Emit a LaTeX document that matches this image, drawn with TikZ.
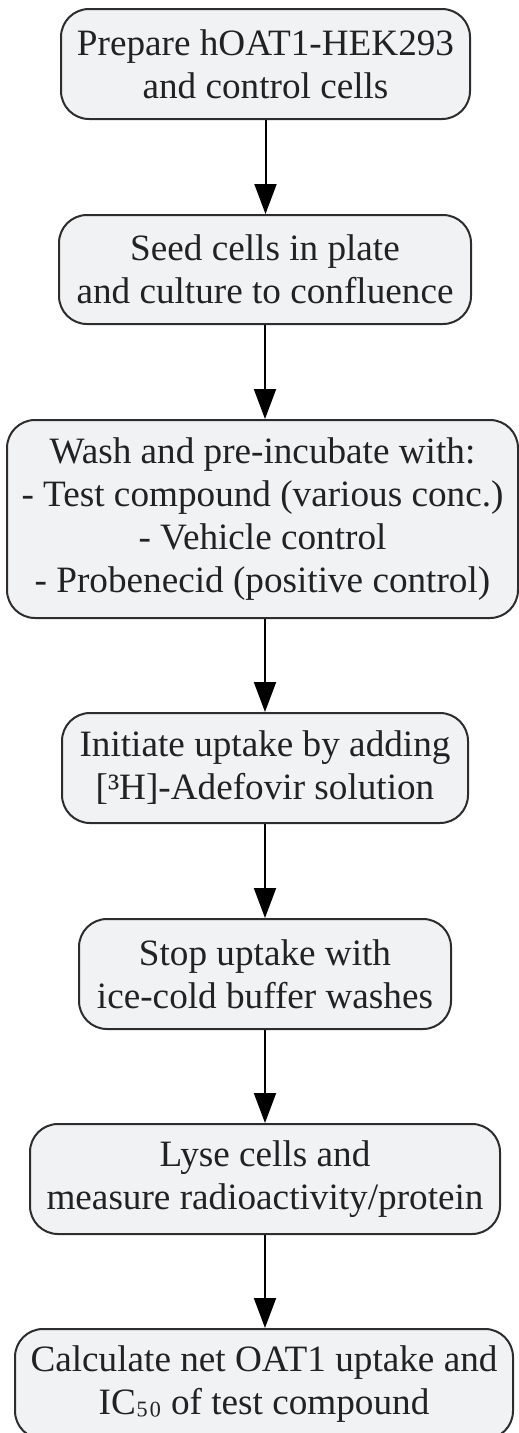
\documentclass[tikz,border=0pt]{standalone}
\usepackage{fontspec}
\setmainfont{Liberation Serif}
\usetikzlibrary{arrows.meta}
\definecolor{boxfill}{RGB}{241,242,244}
\definecolor{boxdraw}{RGB}{45,45,45}
\definecolor{txt}{RGB}{34,34,34}
\tikzset{
  stepbox/.style={draw=boxdraw, fill=boxfill, line width=2pt, rounded corners=28pt,
    inner sep=0pt, align=center, text=txt,
    font=\fontsize{37.2pt}{43pt}\selectfont},
  flow/.style={draw=black, line width=2pt, -{Triangle[length=30pt,width=22pt]}}
}
\begin{document}
\begin{tikzpicture}[x=1pt,y=1pt]
\useasboundingbox (0,0) rectangle (519,-1433);
\node[stepbox, minimum width=409pt, minimum height=110pt] (b1) at (265.5,-64) {Prepare hOAT1-HEK293\\and control cells};
\node[stepbox, minimum width=412pt, minimum height=109pt] (b2) at (265,-269.5) {Seed cells in plate\\and culture to confluence};
\node[stepbox, minimum width=511pt, minimum height=198pt] (b3) at (262.5,-519) {Wash and pre-incubate with:\\- Test compound (various conc.)\\- Vehicle control\\- Probenecid (positive control)};
\node[stepbox, minimum width=406pt, minimum height=110pt] (b4) at (265,-768) {Initiate uptake by adding\\{[³H]}-Adefovir solution};
\node[stepbox, minimum width=372pt, minimum height=110pt] (b5) at (265,-974) {Stop uptake with\\ice-cold buffer washes};
\node[stepbox, minimum width=470pt, minimum height=110pt] (b6) at (265,-1179) {Lyse cells and\\measure radioactivity/protein};
\node[stepbox, minimum width=498pt, minimum height=110pt] (b7) at (264,-1384) {Calculate net OAT1 uptake and\\IC\raisebox{5pt}{₅₀} of test compound};
\draw[flow] (b1.south) -- (b1.south |- b2.north);
\draw[flow] (b2.south) -- (b2.south |- b3.north);
\draw[flow] (b2.south |- b3.south) -- (b2.south |- b4.north);
\draw[flow] (b4.south) -- (b4.south |- b5.north);
\draw[flow] (b5.south) -- (b5.south |- b6.north);
\draw[flow] (b6.south) -- (b6.south |- b7.north);
\end{tikzpicture}
\end{document}
